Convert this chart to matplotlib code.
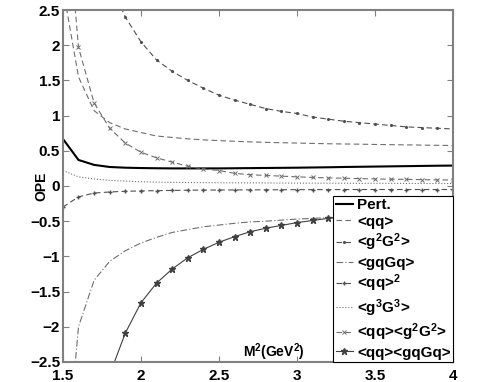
import matplotlib
matplotlib.use("agg")
import numpy as np
import matplotlib.pyplot as plt

plt.rcParams['font.family'] = ['Liberation Sans', 'DejaVu Sans']
plt.rcParams['font.weight'] = 'bold'
plt.rcParams['mathtext.fontset'] = 'custom'
plt.rcParams['mathtext.bf'] = 'Liberation Sans:bold'
plt.rcParams['mathtext.rm'] = 'Liberation Sans:bold'
plt.rcParams['mathtext.default'] = 'bf'

# Borel parameter grid (GeV^2)
m2 = [1.5, 1.6, 1.7, 1.8, 1.9, 2.0, 2.1, 2.2, 2.3, 2.4, 2.5, 2.6, 2.7,
      2.8, 2.9, 3.0, 3.1, 3.2, 3.3, 3.4, 3.5, 3.6, 3.7, 3.8, 3.9, 4.0]

pert = [0.67, 0.37, 0.30, 0.27, 0.26, 0.255, 0.252, 0.25, 0.25, 0.25, 0.25, 0.252, 0.254,
        0.256, 0.258, 0.26, 0.263, 0.266, 0.27, 0.273, 0.276, 0.279, 0.282, 0.285, 0.288, 0.29]
qq = [2.82, 1.55, 1.07, 0.90, 0.81, 0.76, 0.71, 0.69, 0.67, 0.655, 0.645, 0.635, 0.627,
      0.62, 0.615, 0.61, 0.605, 0.60, 0.597, 0.594, 0.59, 0.587, 0.584, 0.581, 0.578, 0.575]
g2G2 = [4.5, 3.6, 3.2, 2.9, 2.4, 2.05, 1.79, 1.63, 1.50, 1.39, 1.29, 1.22, 1.16,
        1.10, 1.06, 1.03, 0.98, 0.95, 0.92, 0.90, 0.88, 0.86, 0.84, 0.83, 0.82, 0.81]
gqGq = [-4.5, -2.0, -1.34, -1.07, -0.92, -0.81, -0.73, -0.66, -0.62, -0.58, -0.555, -0.53, -0.51,
        -0.50, -0.485, -0.47, -0.46, -0.45, -0.445, -0.44, -0.43, -0.425, -0.42, -0.41, -0.405, -0.40]
qq_sq = [-0.30, -0.155, -0.10, -0.085, -0.075, -0.07, -0.066, -0.063, -0.06, -0.058, -0.057, -0.056, -0.055,
         -0.054, -0.053, -0.052, -0.052, -0.051, -0.051, -0.05, -0.05, -0.05, -0.05, -0.05, -0.05, -0.05]
g3G3 = [0.22, 0.13, 0.10, 0.08, 0.07, 0.06, 0.055, 0.052, 0.05, 0.048, 0.046, 0.045, 0.044,
        0.043, 0.042, 0.041, 0.04, 0.04, 0.039, 0.038, 0.038, 0.037, 0.036, 0.036, 0.035, 0.035]
qq_g2G2 = [4.6, 1.97, 1.18, 0.82, 0.61, 0.48, 0.40, 0.34, 0.28, 0.24, 0.22, 0.18, 0.16,
           0.15, 0.14, 0.13, 0.122, 0.115, 0.11, 0.105, 0.10, 0.097, 0.094, 0.09, 0.087, 0.085]
qq_gqGq = [-6.0, -5.0, -4.0, -2.68, -2.09, -1.66, -1.38, -1.18, -1.02, -0.90, -0.80, -0.72, -0.65,
           -0.60, -0.56, -0.52, -0.49, -0.46, -0.44, -0.42, -0.40, -0.38, -0.36, -0.34, -0.325, -0.31]

labels = ['Pert.', '<qq>', r'<g$^{2}$G$^{2}$>', '<gqGq>', r'<qq>$^{2}$',
          r'<g$^{3}$G$^{3}$>', r'<qq><g$^{2}$G$^{2}$>', '<qq><gqGq>']

fig = plt.figure(figsize=(5.03, 3.82), dpi=100)
ax = fig.add_axes([0.125, 0.0524, 0.7756, 0.9214])

gray = '#6e6e6e'
ax.plot(m2, pert, color='black', lw=1.5, label=labels[0])
ax.plot(m2, qq, color=gray, lw=0.8, dashes=(5, 3), label=labels[1])
ax.plot(m2, g2G2, color='#505050', lw=0.8, dashes=(5, 3), marker='.', ms=2.5, label=labels[2])
ax.plot(m2, gqGq, color=gray, lw=0.8, dashes=(6, 2, 1, 2), label=labels[3])
ax.plot(m2, qq_sq, color='#505050', lw=0.8, dashes=(5, 3), marker='+', ms=3, label=labels[4])
ax.plot(m2, g3G3, color=gray, lw=0.8, linestyle=':', label=labels[5])
ax.plot(m2, qq_g2G2, color=gray, lw=0.8, dashes=(5, 3), marker='x', ms=3.5, mew=0.7, label=labels[6])
ax.plot(m2, qq_gqGq, color='#404040', lw=0.8, marker='*', ms=4.5, label=labels[7])

ax.set_xlim(1.5, 4)
ax.set_ylim(-2.5, 2.5)
ax.set_xticks([1.5, 2, 2.5, 3, 3.5, 4])
ax.set_xticklabels(['1.5', '2', '2.5', '3', '3.5', '4'])
yt = [-2.5, -2, -1.5, -1, -0.5, 0, 0.5, 1, 1.5, 2, 2.5]
ax.set_yticks(yt)
ax.set_yticklabels([('%g' % v).replace('-', '\u2212') for v in yt])
ax.tick_params(direction='in', top=True, right=True, length=4, width=0.8,
               color='#808080', labelsize=11)
ax.tick_params(axis='x', pad=5)
ax.tick_params(axis='y', pad=2)
for s in ax.spines.values():
    s.set_color('#808080')
    s.set_linewidth(1.5)

ax.set_ylabel('OPE', fontsize=10, fontweight='bold')
ax.yaxis.set_label_coords(-0.038, 0.5)
ax.text(2.655, -2.43, r'M$^{2}$(GeV$^{2}$)', fontsize=10, fontweight='bold', va='baseline')

leg = ax.legend(loc='lower right', bbox_to_anchor=(1, 0), borderaxespad=0,
                fontsize=11, handlelength=1.15, handletextpad=0.25,
                labelspacing=0.18, borderpad=0.15, fancybox=False, framealpha=1)
leg.get_frame().set_edgecolor('black')
leg.get_frame().set_linewidth(0.8)
for t in leg.get_texts():
    t.set_fontweight('bold')

fig.savefig('out.png', dpi=100)
